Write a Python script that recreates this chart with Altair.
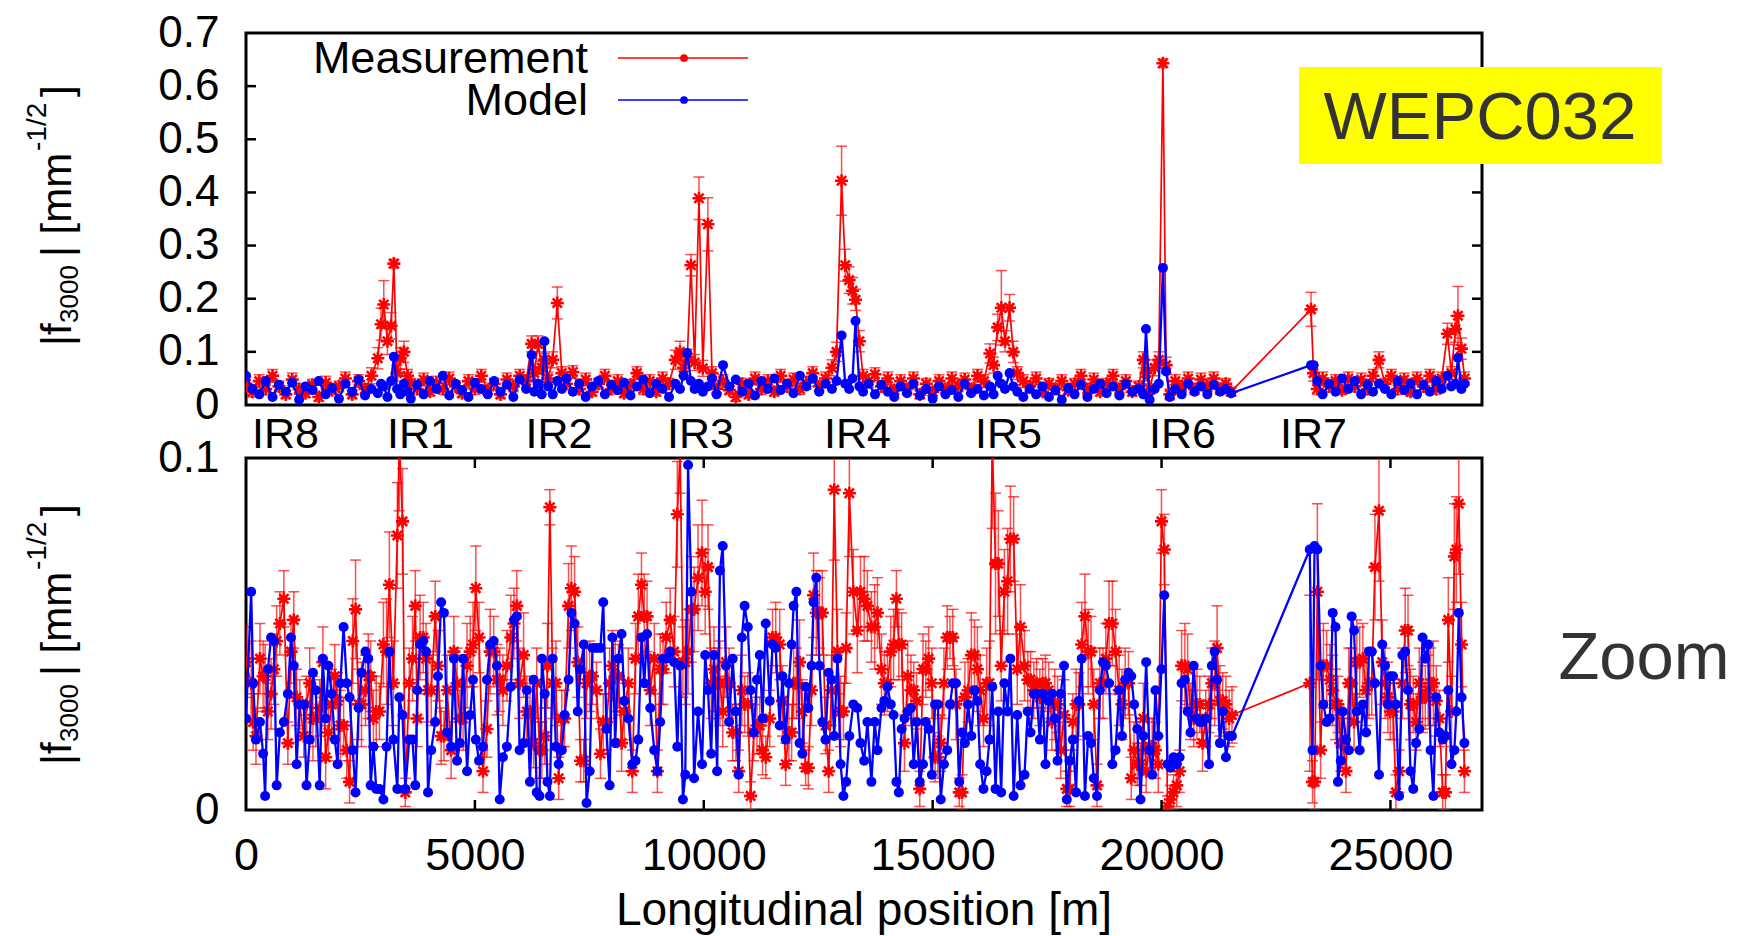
import json
import altair as alt
import pandas as pd

FONT = "Liberation Sans"
RED = "#ff0000"
BLUE = "#0000ff"

# ---------------- top panel data (values in units of 1e-3 mm^-1/2) ----------------
top_s = [0,140,290,430,580,720,870,1010,1160,1300,1450,1590,1740,1880,2030,2170,2320,2460,2600,2740,
         2880,2950,3010,3090,3170,3230,3300,3370,3450,3530,3600,
         3740,3880,4020,4160,4300,4440,4580,4720,4860,5000,5140,5280,5420,5560,5700,5840,5980,6120,
         6240,6300,6380,6460,6520,6600,6700,6800,6900,
         7000,7140,7280,7420,7560,7700,7840,7980,8120,8260,8400,8540,8680,8820,8960,9100,9240,
         9380,9480,9560,9640,9720,9800,9895,9980,10090,10180,
         10280,10420,10560,10700,10840,10980,11120,11260,11400,11540,11680,11820,11960,12100,12240,12380,12520,12660,
         12800,12900,13010,13090,13175,13250,13315,13400,13480,
         13600,13740,13880,14020,14160,14300,14440,14580,14720,14860,15000,15140,15280,15420,15560,15700,15840,15980,16120,
         16250,16330,16420,16500,16580,16680,16760,16850,
         16980,17120,17260,17400,17540,17680,17820,17960,18100,18240,18380,18520,18660,18800,18940,19080,19220,19360,19500,
         19600,19660,19740,19850,19940,20030,20100,20180,
         20300,20440,20580,20720,20860,21000,21140,21280,21400,21520,
         23265,23320,23400,23520,23660,23800,23940,24080,24220,24360,24500,24620,24750,24880,25020,25160,25300,25440,25580,25720,25860,26000,26120,
         26245,26330,26420,26475,26550,26620]
top_meas = [40,25,45,30,55,35,20,48,30,22,38,15,42,28,35,50,20,45,30,55,
            88,152,189,120,149,266,60,88,100,55,40,
            30,48,25,42,30,50,35,22,45,30,55,28,40,20,48,35,55,45,
            115,60,115,70,85,50,85,192,60,
            40,62,30,48,25,40,55,30,45,22,38,60,30,45,25,50,40,
            85,100,70,90,263,80,389,69,340,60,
            30,45,28,15,40,20,50,30,45,25,55,35,48,30,42,60,35,50,
            70,100,422,263,235,215,198,120,55,
            45,58,35,50,28,45,30,50,20,40,25,45,30,50,35,48,30,55,45,
            97,75,146,183,120,183,100,60,
            45,35,50,25,40,30,45,28,40,55,30,48,25,40,55,30,45,25,35,
            85,60,30,70,85,643,75,20,
            45,35,50,30,48,35,50,30,40,25,
            180,60,30,50,35,45,28,50,35,48,30,55,85,40,55,30,48,25,50,35,55,30,50,
            134,60,143,168,106,50]
top_err = [12,10,12,10,12,10,8,12,10,8,10,8,12,8,10,12,8,12,10,15,
           20,30,45,25,25,8,15,20,20,12,10,
           10,12,8,12,10,12,10,8,12,10,12,8,10,8,12,10,12,12,
           15,12,15,12,12,12,15,30,12,
           10,12,10,12,8,10,12,10,12,8,10,12,10,12,8,12,10,
           18,20,15,15,20,15,40,15,50,12,
           10,12,8,8,10,8,12,10,12,8,12,10,12,10,12,12,10,12,
           15,18,65,30,25,25,20,20,12,
           12,12,10,12,8,12,10,12,8,10,8,12,10,12,10,12,10,12,12,
           18,15,25,70,20,25,20,12,
           12,10,12,8,10,10,12,8,10,12,10,12,8,10,12,10,12,8,10,
           15,15,10,15,15,8,15,10,
           12,10,12,10,12,10,12,10,10,8,
           32,15,10,12,10,12,8,12,10,12,10,12,15,10,12,10,12,8,12,10,12,10,12,
           20,12,25,55,20,12]
top_model = [55,30,20,45,15,38,25,42,10,35,28,45,20,32,12,40,25,48,18,30,
             22,40,35,15,45,91,30,20,40,25,12,
             38,20,45,30,55,18,40,28,15,42,30,20,45,25,38,15,48,30,
             94,25,40,20,120,35,20,45,30,
             50,25,40,15,35,45,20,38,28,42,18,35,48,22,40,30,15,
             40,30,55,98,45,30,40,25,35,50,
             20,75,35,48,25,40,18,45,30,50,28,40,22,55,35,50,25,40,
             30,45,131,40,30,50,158,35,25,
             40,20,38,25,15,35,22,40,18,30,12,35,20,28,15,40,22,30,18,
             35,20,55,40,30,60,35,25,
             15,30,20,35,15,28,10,32,20,38,15,30,40,22,35,18,40,25,30,
             20,143,10,30,40,258,63,15,
             30,20,40,25,35,20,38,25,30,22,
             75,75,45,20,40,25,50,30,45,20,38,25,40,30,20,45,28,40,20,38,25,45,30,
             55,35,40,89,30,40]

# ---------------- zoom panel data (values in units of 1e-3 mm^-1/2) ----------------
zoom_s = [0,113,157,218,305,374,418,479,548,609,670,740,827,914,983,
          1044,1105,1175,1262,1322,1392,1462,1523,1610,1679,1740,1801,1871,1940,2001,
          2062,2132,2201,2262,2332,2393,2462,2523,2610,2671,2723,2784,2845,2915,3002,
          3071,3132,3219,3306,3350,3419,3480,3567,3637,3698,3741,3802,3872,3932,3976,
          4046,4133,4193,4263,4324,4394,4481,4541,4611,4672,4742,4829,4898,4959,5020,
          5090,5177,5264,5333,5411,5481,5542,5612,5699,5786,5855,5916,5977,6064,6134,
          6203,6281,6351,6412,6464,6525,6586,6638,6699,6769,6830,6899,6960,7047,7108,
          7178,7247,7308,7378,7439,7508,7569,7656,7743,7804,7874,7943,8004,8065,8135,
          8204,8265,8352,8439,8509,8570,8639,8700,8761,8831,8918,8987,9048,9109,9179,
          9266,9353,9422,9483,9544,9596,9657,9727,9788,9875,9962,10031,10092,10162,10223,
          10292,10353,10414,10484,10553,10631,10701,10762,10832,10892,10962,11023,11093,11162,11223,
          11284,11354,11441,11501,11571,11658,11719,11789,11858,11919,11963,12023,12093,12154,12224,
          12284,12354,12398,12458,12528,12589,12659,12728,12789,12850,12920,12989,13050,13110,13180,
          13267,13354,13423,13504,13574,13662,13733,13794,13882,13944,14014,14085,14146,14208,14261,
          14322,14384,14454,14525,14586,14648,14718,14789,14850,14912,14982,15053,15114,15176,15246,
          15317,15378,15440,15510,15581,15642,15704,15774,15845,15915,15977,16038,16109,16179,16241,
          16302,16373,16434,16496,16566,16637,16698,16769,16848,16918,17006,17077,17138,17209,17270,
          17341,17402,17464,17534,17605,17666,17728,17798,17869,17930,17992,18062,18133,18194,18256,
          18326,18397,18458,18520,18590,18652,18722,18784,18854,18925,18995,19074,19136,19206,19277,
          19338,19400,19470,19541,19602,19664,19734,19796,19866,19928,19998,20060,20130,20192,20262,
          20333,20394,20438,20509,20570,20632,20702,20773,20834,20896,20966,21037,21098,21160,21213,
          21274,21336,21406,21477,21538,23237,23298,23342,23404,23474,23536,23606,23677,23738,23800,
          23853,23914,23958,24029,24090,24152,24205,24266,24328,24398,24469,24530,24592,24662,24750,
          24821,24882,24944,24997,25058,25120,25190,25261,25322,25384,25437,25498,25560,25630,25701,
          25762,25824,25877,25938,26000,26070,26141,26202,26264,26334,26396,26440,26493,26554,26616]
zoom_meas = [42,36,25,21,43,38,38,28,33,40,48,53,60,19,45,
             54,32,30,21,30,36,26,26,29,42,15,22,30,38,31,
             24,24,17,8,48,57,30,30,34,38,38,26,28,28,47,
             45,64,36,78,105,82,5,36,43,58,26,49,49,43,34,
             34,55,41,21,21,34,17,45,36,26,26,41,45,47,63,
             49,11,23,45,45,37,37,34,41,49,53,58,36,44,28,
             28,19,36,17,17,21,41,86,36,36,9,26,26,58,63,
             62,42,14,14,36,38,38,34,16,25,25,36,41,38,38,
             19,28,36,11,43,55,64,55,55,34,43,11,40,40,49,
             54,45,84,102,42,42,45,57,57,66,73,62,69,36,40,
             36,36,28,42,36,22,22,11,34,30,30,4,22,24,24,
             17,15,26,49,49,47,31,13,22,22,36,36,42,28,12,
             12,34,61,56,56,56,24,11,34,91,45,28,28,46,90,
             62,51,62,60,58,52,52,56,40,36,36,45,47,60,47,
             47,19,38,34,34,31,6,40,40,43,36,15,15,19,36,
             49,49,49,30,5,5,32,34,44,44,40,34,26,36,36,
             105,70,70,41,62,65,77,77,40,52,41,37,37,34,36,
             32,36,36,34,25,30,30,17,27,6,6,25,30,30,47,
             55,45,45,30,7,36,36,43,53,53,45,34,30,36,36,
             9,17,13,13,26,11,18,18,17,13,82,74,1,3,5,
             7,11,41,41,40,28,26,30,30,19,26,30,36,36,46,
             31,31,30,26,27,36,8,8,62,17,41,41,37,34,30,
             30,19,19,11,36,36,25,42,42,43,34,36,36,69,85,
             42,36,32,28,28,5,11,36,51,51,30,30,25,36,32,
             32,34,36,36,31,26,5,5,54,28,72,74,87,47,11]
zoom_err = [10,12,8,8,10,10,9,8,10,10,10,9,8,6,9,
            8,8,7,6,8,10,12,8,8,10,9,8,10,9,8,
            10,8,8,6,12,14,10,12,10,12,10,8,10,8,12,
            15,15,12,15,20,15,4,10,12,10,8,12,10,10,9,
            10,10,10,8,7,10,8,10,10,8,9,12,10,12,12,
            10,6,8,12,10,10,9,10,10,12,10,10,10,12,10,
            8,7,10,8,8,8,12,5,10,12,6,8,8,12,12,
            10,10,6,6,10,10,8,8,7,8,8,10,10,10,9,
            8,8,10,6,10,12,9,12,10,10,10,6,10,10,10,
            9,10,15,12,10,12,12,15,12,15,15,12,12,10,12,
            10,12,10,10,10,8,8,6,10,8,9,4,8,8,8,
            7,6,8,8,10,10,10,6,8,8,10,10,12,9,5,
            6,10,12,12,10,12,8,6,10,20,12,10,8,10,18,
            12,12,10,12,10,10,12,10,10,9,8,10,10,8,10,
            9,8,10,10,8,8,5,10,8,9,10,7,6,8,10,
            9,6,8,10,4,5,10,9,12,10,12,10,8,10,12,
            25,20,15,10,12,15,15,12,10,12,10,8,8,8,7,
            8,7,8,8,8,10,8,8,10,5,5,8,10,9,12,
            12,12,10,10,6,10,10,10,12,12,12,10,10,10,9,
            6,8,6,6,10,6,8,8,8,8,9,10,3,4,5,
            6,6,10,12,10,8,8,10,8,8,8,8,10,12,12,
            10,8,8,8,8,25,6,8,25,8,12,10,10,10,10,
            8,8,7,6,10,10,8,12,10,10,10,10,9,15,20,
            12,10,10,8,8,5,6,10,12,10,10,8,8,10,10,
            9,10,10,12,10,8,5,5,12,10,15,15,20,12,6]
zoom_model = [26,62,36,20,25,16,4,40,49,48,7,22,25,33,49,
              41,13,30,30,7,20,39,34,7,43,26,41,33,20,13,
              36,52,36,32,17,5,29,39,45,43,7,18,6,6,3,
              18,45,20,6,32,27,6,20,20,7,34,47,48,45,5,
              17,25,38,59,56,22,18,43,14,19,43,11,27,37,20,
              14,18,37,47,48,41,3,15,18,35,54,55,17,19,34,
              8,37,5,4,43,33,8,4,43,18,13,17,27,37,56,
              53,28,40,47,2,11,46,46,46,59,23,7,49,19,43,
              50,31,26,13,14,20,49,36,50,29,17,11,25,43,43,
              45,42,18,41,3,10,98,62,9,28,13,44,34,16,44,
              11,68,75,41,25,43,28,10,49,58,52,34,22,37,44,
              26,53,31,47,46,24,38,20,36,47,58,62,19,16,35,
              29,41,59,66,41,25,20,39,37,21,43,13,4,8,21,
              30,29,19,14,25,8,25,17,29,31,35,30,27,8,5,
              23,26,28,29,13,25,8,13,25,23,10,30,30,3,13,
              17,30,36,36,8,22,19,30,21,34,31,13,6,11,20,
              35,6,28,5,36,28,43,4,27,7,10,28,22,33,33,
              20,33,13,31,33,26,14,33,41,3,14,20,5,31,43,
              4,21,19,9,4,34,42,41,36,13,17,34,21,37,39,
              38,30,23,3,21,42,17,10,34,21,40,61,13,12,15,
              13,15,36,37,28,22,41,26,25,25,26,13,41,45,37,
              19,28,15,21,21,74,17,75,74,41,30,25,26,56,52,
              8,14,28,20,17,55,51,28,17,30,22,45,45,36,10,
              47,41,30,38,38,30,4,44,45,34,11,6,19,23,49,
              43,47,17,4,32,22,20,21,34,13,17,28,56,32,19]

# ---------------- axis / label content ----------------
ir_names = ["IR8", "IR1", "IR2", "IR3", "IR4", "IR5", "IR6", "IR7"]
ir_pos = [852, 3800, 6826, 9917, 13346, 16645, 20446, 23307]
top_y_ticks = [0, 0.1, 0.2, 0.3, 0.4, 0.5, 0.6, 0.7]
top_inner_ticks = [0.1, 0.2, 0.3, 0.4, 0.5, 0.6]
zoom_y_ticks = [0, 0.1]
zoom_x_ticks = [0, 5000, 10000, 15000, 20000, 25000]
zoom_inner_ticks = [5000, 10000, 15000, 20000, 25000]
legend_names = ["Measurement", "Model"]
legend_colors = [RED, BLUE]

W = 1236
H_TOP = 372
H_BOT = 352
TOP_OFF = 32  # page y of the top panel's upper edge
x_scale = alt.Scale(domain=[0, 27000], nice=False, zero=False)
STAR = "M-1,0L1,0M0,-1L0,1M-0.71,-0.71L0.71,0.71M-0.71,0.71L0.71,-0.71"
one = pd.DataFrame({"k": [0]})


def build(s, meas, err, model):
    return pd.DataFrame({
        "s": s,
        "meas": [v / 1000 for v in meas],
        "err": [v / 1000 for v in err],
        "model": [v / 1000 for v in model],
    })


def data_layers(df, y_scale, x_axis, y_axis):
    base = alt.Chart(df).transform_calculate(
        lo="datum.meas - datum.err", hi="datum.meas + datum.err")
    X = alt.X("s:Q", scale=x_scale)
    # first layer carries the explicit axes; the others leave the axis unset
    bars = base.mark_rule(color=RED, strokeWidth=1.5, opacity=0.7, clip=True).encode(
        x=alt.X("s:Q", scale=x_scale, axis=x_axis),
        y=alt.Y("lo:Q", scale=y_scale, axis=y_axis), y2="hi:Q")
    cap_lo = base.mark_tick(color=RED, orient="horizontal", size=11, thickness=1.5,
                            opacity=0.7, clip=True).encode(
        x=X, y=alt.Y("lo:Q", scale=y_scale))
    cap_hi = base.mark_tick(color=RED, orient="horizontal", size=11, thickness=1.5,
                            opacity=0.7, clip=True).encode(
        x=X, y=alt.Y("hi:Q", scale=y_scale))
    mline = base.mark_line(color=RED, strokeWidth=1.7, clip=True).encode(
        x=X, y=alt.Y("meas:Q", scale=y_scale))
    mpts = base.mark_point(shape=STAR, size=170, filled=False, color=RED, strokeWidth=2.6,
                           opacity=1, clip=True).encode(
        x=X, y=alt.Y("meas:Q", scale=y_scale))
    bline = alt.Chart(df).mark_line(color=BLUE, strokeWidth=2.3, clip=True).encode(
        x=X, y=alt.Y("model:Q", scale=y_scale))
    bpts = alt.Chart(df).mark_circle(color=BLUE, size=100, opacity=1, clip=True).encode(
        x=X, y=alt.Y("model:Q", scale=y_scale))
    return [bars, cap_lo, cap_hi, mline, mpts, bline, bpts]


def frame(h):
    return alt.Chart(one).mark_rect(filled=False, stroke="black", strokeWidth=3).encode(
        x=alt.value(0), x2=alt.value(W), y=alt.value(0), y2=alt.value(h))


def ytitle(y_main, y_sub, y_mid, y_sup, y_end):
    pieces = [("|f", 42, -175, y_main), ("3000", 26, -168, y_sub),
              ("| [mm", 42, -175, y_mid), ("-1/2", 28, -200, y_sup), ("]", 42, -175, y_end)]
    out = []
    for txt, fs, xx, yy in pieces:
        out.append(alt.Chart(one).mark_text(text=txt, angle=270, align="left",
                                            baseline="alphabetic", fontSize=fs, font=FONT,
                                            color="black").encode(x=alt.value(xx), y=alt.value(yy)))
    return out


df_top = build(top_s, top_meas, top_err, top_model)
df_zoom = build(zoom_s, zoom_meas, zoom_err, zoom_model)

# ---------------- top panel ----------------
y_top = alt.Scale(domain=[0, 0.7], nice=False, zero=True)
ir_expr = "%s[indexof(%s, datum.value)]" % (json.dumps(ir_names), json.dumps(ir_pos))
top_x_axis = alt.Axis(values=ir_pos, labelExpr=ir_expr, ticks=False, tickSize=0, domain=False,
                      grid=False, labelFontSize=43, labelFont=FONT, labelColor="black",
                      labelPadding=8, labelFlush=False, labelOverlap=False, labelAngle=0, title=None)
top_y_axis = alt.Axis(values=top_y_ticks, format=".1~f", ticks=False, tickSize=0, domain=False,
                      grid=False, labelFontSize=44, labelFont=FONT, labelColor="black",
                      labelPadding=27, labelFlush=False, labelOverlap=False, title=None)

tdf = pd.DataFrame({"v": top_inner_ticks})
top_ticks = [
    alt.Chart(tdf).mark_rule(color="black", strokeWidth=2.5).encode(
        y=alt.Y("v:Q", scale=y_top), x=alt.value(0), x2=alt.value(10)),
    alt.Chart(tdf).mark_rule(color="black", strokeWidth=2.5).encode(
        y=alt.Y("v:Q", scale=y_top), x=alt.value(W - 10), x2=alt.value(W)),
]

d = TOP_OFF - 30  # shift of the page-anchored annotations relative to earlier layout
legend_layers = []
for i, (name, col) in enumerate(zip(legend_names, legend_colors)):
    yl = 27 + 42 * i - d
    legend_layers.append(alt.Chart(one).mark_text(text=name, align="right", baseline="middle",
                                                  fontSize=45, font=FONT, color="black").encode(
        x=alt.value(342), y=alt.value(yl + 1)))
    legend_layers.append(alt.Chart(one).mark_rule(color=col, strokeWidth=1.5).encode(
        x=alt.value(372), x2=alt.value(502), y=alt.value(yl)))
    legend_layers.append(alt.Chart(one).mark_circle(color=col, size=60, opacity=1).encode(
        x=alt.value(438), y=alt.value(yl)))

badge = [
    alt.Chart(one).mark_rect(color="#ffff00").encode(
        x=alt.value(1053), x2=alt.value(1416), y=alt.value(36 - d), y2=alt.value(133 - d)),
    alt.Chart(one).mark_text(text="WEPC032", fontSize=67, font=FONT, color="#333333",
                             align="center", baseline="alphabetic").encode(
        x=alt.value(1234), y=alt.value(108 - d)),
]
anchor = alt.Chart(one).mark_rule(color="white", strokeWidth=1).encode(
    x=alt.value(-237), x2=alt.value(-236), y=alt.value(-24), y2=alt.value(-23))

top = alt.layer(
    frame(H_TOP),
    *data_layers(df_top, y_top, top_x_axis, top_y_axis),
    *top_ticks, *legend_layers, *badge,
    *ytitle(315 - d, 292 - d, 226 - d, 120 - d, 66 - d), anchor,
).properties(width=W, height=H_TOP)

# ---------------- zoom panel ----------------
y_zoom = alt.Scale(domain=[0, 0.1], nice=False, zero=True)
zoom_x_axis = alt.Axis(values=zoom_x_ticks, format="d", ticks=False, tickSize=0, domain=False,
                       grid=False, labelFontSize=45, labelFont=FONT, labelColor="black",
                       labelPadding=23, labelFlush=False, labelOverlap=False, labelAngle=0, title=None)
zoom_y_axis = alt.Axis(values=zoom_y_ticks, format=".1~f", ticks=False, tickSize=0, domain=False,
                       grid=False, labelFontSize=44, labelFont=FONT, labelColor="black",
                       labelPadding=27, labelFlush=False, labelOverlap=False, title=None)
zdf = pd.DataFrame({"v": zoom_inner_ticks})
zoom_ticks = [
    alt.Chart(zdf).mark_rule(color="black", strokeWidth=2.5).encode(
        x=alt.X("v:Q", scale=x_scale), y=alt.value(0), y2=alt.value(10)),
    alt.Chart(zdf).mark_rule(color="black", strokeWidth=2.5).encode(
        x=alt.X("v:Q", scale=x_scale), y=alt.value(H_BOT - 10), y2=alt.value(H_BOT)),
]
zoom_texts = [
    alt.Chart(one).mark_text(text="Zoom", fontSize=67, font=FONT, color="#333333",
                             align="center", baseline="alphabetic").encode(
        x=alt.value(1398), y=alt.value(221)),
    alt.Chart(one).mark_text(text="Longitudinal position [m]", fontSize=46, font=FONT,
                             color="black", align="center", baseline="alphabetic").encode(
        x=alt.value(W / 2), y=alt.value(467)),
]

bottom = alt.layer(
    frame(H_BOT),
    *data_layers(df_zoom, y_zoom, zoom_x_axis, zoom_y_axis),
    *zoom_ticks, *zoom_texts, *ytitle(307, 284, 218, 112, 58),
).properties(width=W, height=H_BOT)

chart = alt.vconcat(top, bottom, spacing=53, bounds="flush", padding=0).configure(
    font=FONT, background="white").configure_view(stroke="transparent")

chart.save("out.html", embed_options={"renderer": "svg", "actions": False})
